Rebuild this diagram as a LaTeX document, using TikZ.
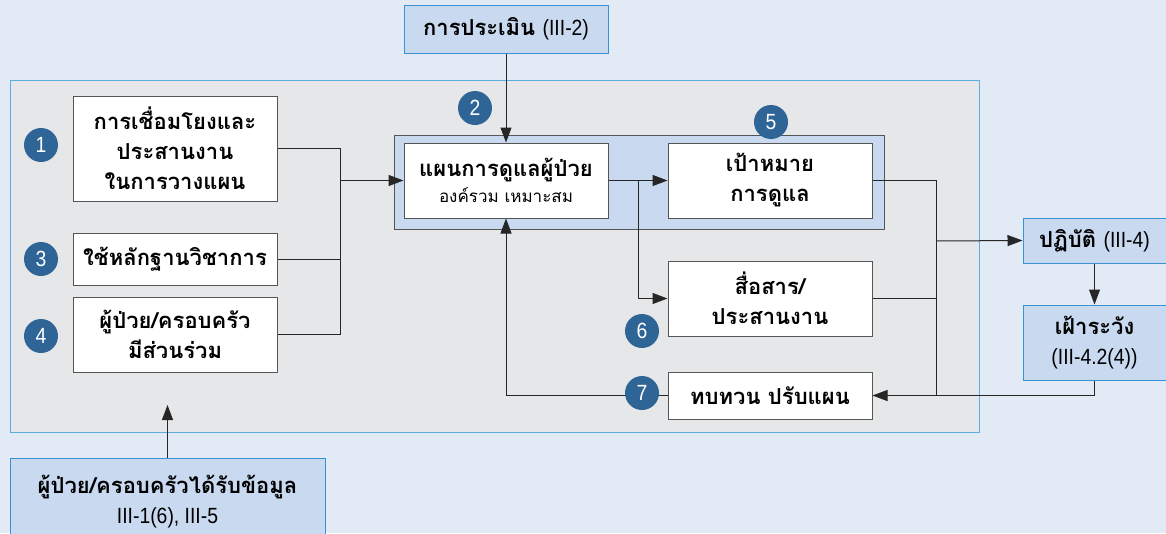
\documentclass[tikz,border=0pt]{standalone}
\usepackage{fontspec}
\setmainfont[Script=Thai]{Loma}
\newfontfamily\latinfont[FakeStretch=0.88]{Liberation Sans}
\usetikzlibrary{arrows.meta}
\definecolor{pagebg}{HTML}{E2EAF5}
\definecolor{panelbg}{HTML}{E6E7E9}
\definecolor{panelline}{HTML}{5BAEDF}
\definecolor{lightblue}{HTML}{C9D9EF}
\definecolor{boxline}{HTML}{3A92D2}
\definecolor{darkline}{HTML}{555555}
\definecolor{badgeblue}{HTML}{2F6596}

\begin{document}
\begin{tikzpicture}[x=1pt,y=-1pt,line width=1pt,
    >={Triangle[length=15pt,width=11pt]},
    whitebox/.style={draw=darkline,fill=white,inner sep=0pt,align=center,
      minimum width=204pt,font=\bfseries\fontsize{22}{30}\selectfont},
    bluebox/.style={draw=boxline,fill=lightblue,inner sep=0pt,align=center,
      font=\bfseries\fontsize{22}{30}\selectfont},
    badge/.style={circle,fill=badgeblue,text=white,minimum size=34pt,inner sep=0pt,
      font=\latinfont\fontsize{22}{22}\selectfont},
    link/.style={draw=black!85,line width=1pt} ]
    \useasboundingbox (0,0) rectangle (1166,533);
    \fill [pagebg] (0,0) rectangle (1166,533);
    \draw [panelline,fill=panelbg] (10,80) rectangle (979,432);
    \draw [darkline,fill=lightblue] (394,135) rectangle (884,229);
    % boxes
    \node at (506,29) [bluebox,minimum width=204pt,minimum height=48pt] (assess)
      {การประเมิน {\latinfont\mdseries\fontsize{22}{30}\selectfont(III-2)}};
    \node at (506,180.5) [whitebox,minimum height=75pt] (plan)
      {แผนการดูแลผู้ป่วย\\[-4pt]{\mdseries\fontsize{17}{24}\selectfont องค์รวม เหมาะสม}};
    \node at (770,180.5) [whitebox,minimum height=75pt] (goal) {เป้าหมาย\\การดูแล};
    \node at (770,298.5) [whitebox,minimum height=75pt] (comm) {สื่อสาร/\\ประสานงาน};
    \node at (770,395.5) [whitebox,minimum height=47pt] (review) {ทบทวน ปรับแผน};
    \node at (175,148.5) [whitebox,minimum height=105pt] (linkplan)
      {การเชื่อมโยงและ\\ประสานงาน\\ในการวางแผน};
    \node at (175,259) [whitebox,minimum height=52pt] (evidence) {ใช้หลักฐานวิชาการ};
    \node at (175,334.5) [whitebox,minimum height=75pt] (family)
      {ผู้ป่วย/ครอบครัว\\มีส่วนร่วม};
    \node at (167.5,501.5) [bluebox,minimum width=315pt,minimum height=87pt] (info)
      {ผู้ป่วย/ครอบครัวได้รับข้อมูล\\{\latinfont\mdseries\fontsize{22}{30}\selectfont III-1(6), III-5}};
    \node at (1094.5,240.5) [bluebox,minimum width=143pt,minimum height=45pt] (practice)
      {ปฏิบัติ {\latinfont\mdseries\fontsize{22}{30}\selectfont(III-4)}};
    \node at (1094.5,342.5) [bluebox,minimum width=143pt,minimum height=75pt] (monitor)
      {เฝ้าระวัง\\{\latinfont\mdseries\fontsize{22}{30}\selectfont(III-4.2(4))}};
    % connectors
    \coordinate (jleft) at (340,180.5);
    \coordinate (jsplit) at (638,180.5);
    \coordinate (jright) at (936,241);
    \coordinate (infotip) at (167.5,405);
    \draw [link] (linkplan.east) -- (340,148.5) -- (340,334.5) -- (family.east);
    \draw [link] (evidence.east) -- (evidence.east -| jleft);
    \draw [link,->] (jleft) -- (plan.west);
    \draw [link,->] (assess.south) -- (plan.north);
    \draw [link,->] (plan.east) -- (goal.west);
    \draw [link,->] (jsplit) |- (comm.west);
    \draw [link] (goal.east) -- (936,180.5) -- (936,395.5);
    \draw [link] (comm.east) -- (comm.east -| jright);
    \draw [link,->] (jright) -- (practice.west);
    \draw [link,->] (practice.south) -- (monitor.north);
    \draw [link,->] (monitor.south) |- (review.east);
    \draw [link,->] (review.west) -| (plan.south);
    \draw [link,->] (info.north) -- (infotip);
    % numbers
    \node at (41,145) [badge] (n1) {1};
    \node at (475,108) [badge] (n2) {2};
    \node at (41,259) [badge] (n3) {3};
    \node at (41,336) [badge] (n4) {4};
    \node at (771,122) [badge] (n5) {5};
    \node at (642,331) [badge] (n6) {6};
    \node at (642,393) [badge] (n7) {7};
\end{tikzpicture}
\end{document}
